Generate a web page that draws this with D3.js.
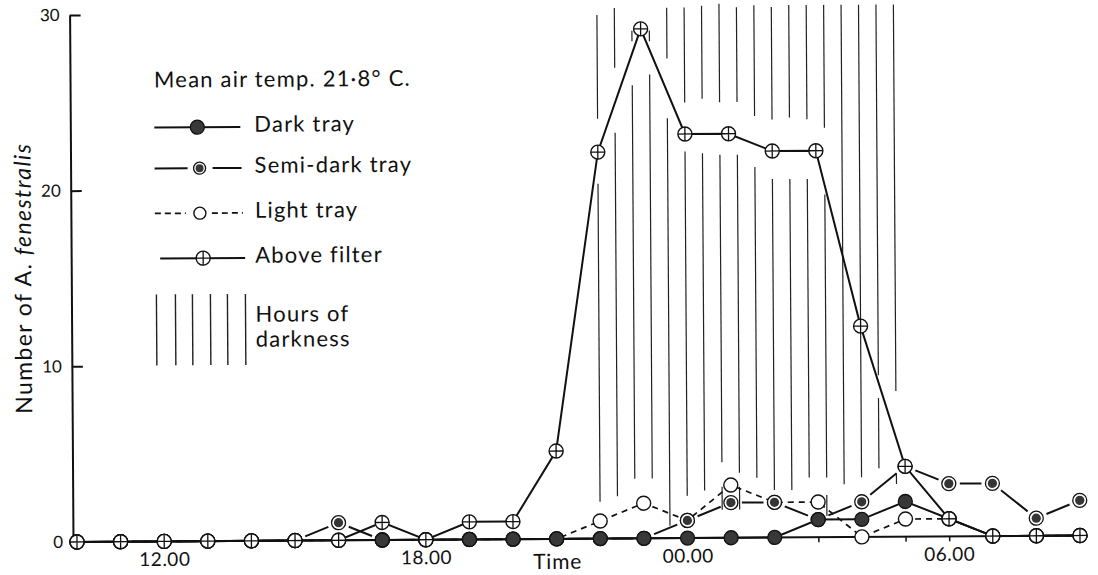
<!DOCTYPE html>
<html>
<head>
<meta charset="utf-8">
<script src="https://cdn.jsdelivr.net/npm/d3@7"></script>
<style>
  body { margin: 0; background: #fff; }
  svg { display: block; }
  text { font-family: Lato, "Open Sans", sans-serif; fill: #111; }
</style>
</head>
<body>
<svg id="chart" width="1098" height="575"></svg>
<script>
// Hourly catches; hours counted from midnight of the first day (24 = 00.00 next day)
const hours        = [10,11,12,13,14,15,16,17,18,19,20,21,22,23,24,25,26,27,28,29,30,31,32,33];
const darkTray     = [0,0,0,0,0,0,0,0,0,0,0,0,0,0,0,0,0,1,1,2,1,0,0,0];
const semiDarkTray = [0,0,0,0,0,0,1,0,0,0,0,0,0,0,1,2,2,1,2,4,3,3,1,2];
const lightTray    = [0,0,0,0,0,0,0,0,0,0,0,0,1,2,1,3,2,2,0,1,1,0,0,0];
const aboveFilter  = [0,0,0,0,0,0,0,1,0,1,1,5,22,29,23,23,22,22,12,4,1,0,0,0];

const yTicks = [0, 10, 20, 30];
const labelHours = [12, 18, 24, 30];
const labelTexts = ["12.00", "18.00", "00.00", "06.00"];

// Hours of darkness (start, end) and the broken hatch strokes, in count units (top, bottom)
const darkness = [22.0, 28.8];
const darknessStrokes = [
  [[29.8,23.9],[20.2,2.1]],
  [[30.2,26.8],[23.1,2.4]],
  [[28.9,28.3],[25.8,3.4]],
  [[28.9,28.3],[26.4,3.4]],
  [[30.2,27.3],[23.9,0.7]],
  [[30.2,24.8],[22.0,2.4]],
  [[30.3,25.0],[21.9,2.7]],
  [[30.4,24.8],[21.8,4.3],[2.9,1.6]],
  [[30.2,24.8],[21.8,3.7],[2.9,1.6]],
  [[30.3,24.0],[21.1,3.4]],
  [[30.2,23.8],[20.4,2.7]],
  [[30.3,23.9],[20.4,2.7]],
  [[30.3,23.8],[20.4,3.4]],
  [[30.3,23.3],[19.5,3.4],[2.4,1.2]],
  [[30.3,3.0]],
  [[30.3,3.4]],
  [[30.3,9.2],[7.9,3.9]],
  [[30.3,8.3],[3.6,3.0]]
];

const INK = "#111";
const R = 7;

const svg = d3.select("#chart");
// whole figure sits very slightly rotated, as printed
const g = svg.append("g").attr("transform", "rotate(-0.37, 73, 542)");

const x = d3.scaleLinear().domain([10, 33]).range([77, 1080]);
const y = d3.scaleLinear().domain([0, 30]).range([542, 15]);
const axisX = 73;

// ---- darkness hatching
const hatch = g.append("g").attr("stroke", "#222").attr("stroke-width", 1.2);
darknessStrokes.forEach((segs, i) => {
  const h = darkness[0] + i * (darkness[1] - darkness[0]) / (darknessStrokes.length - 1);
  segs.forEach(([t, b]) => {
    hatch.append("line")
      .attr("x1", x(h)).attr("x2", x(h))
      .attr("y1", y(t)).attr("y2", y(b));
  });
});

// ---- axes
const yAxis = d3.axisLeft(y).tickValues(yTicks).tickSizeInner(-11).tickSizeOuter(0).tickPadding(10);
const ya = g.append("g").attr("transform", `translate(${axisX},0)`).call(yAxis);
ya.select(".domain").attr("stroke", INK).attr("stroke-width", 2);
ya.selectAll(".tick line").attr("stroke", INK).attr("stroke-width", 2);
ya.selectAll(".tick text").attr("font-size", 17).style("font-family", "Lato, sans-serif").attr("fill", INK);

const xAxis = d3.axisBottom(x).tickValues(hours).tickSize(5).tickPadding(6)
  .tickFormat(h => { const k = labelHours.indexOf(h); return k >= 0 ? labelTexts[k] : ""; });
const xa = g.append("g").attr("transform", `translate(0,${y(0)})`).call(xAxis);
xa.select(".domain").remove();
xa.selectAll(".tick line").attr("stroke", INK).attr("stroke-width", 1.5);
xa.selectAll(".tick text").attr("font-size", 19).attr("letter-spacing", 0.5)
  .style("font-family", "Lato, sans-serif").attr("fill", INK);
g.append("line").attr("x1", axisX).attr("x2", x(33) + 4).attr("y1", y(0)).attr("y2", y(0))
  .attr("stroke", INK).attr("stroke-width", 2);

g.append("text").attr("x", 533).attr("y", 572).attr("font-size", 21).attr("letter-spacing", 0.8).text("Time");

const yt = g.append("text").attr("transform", "translate(33,278) rotate(-90)")
  .attr("text-anchor", "middle").attr("font-size", 23).attr("letter-spacing", 1.4);
yt.append("tspan").text("Number of A. ");
yt.append("tspan").attr("font-style", "italic").text("fenestralis");

// ---- series lines
const pts = vals => hours.map((h, i) => [x(h), y(vals[i])]);
const line = d3.line();

g.append("path").attr("d", line(pts(lightTray))).attr("fill", "none")
  .attr("stroke", INK).attr("stroke-width", 1.7).attr("stroke-dasharray", "6,5");

// semi-dark: one dash per interval, broken clear of the markers
function trimmedSegments(p, gap) {
  const out = [];
  for (let i = 0; i < p.length - 1; i++) {
    const [x1, y1] = p[i], [x2, y2] = p[i + 1];
    const L = Math.hypot(x2 - x1, y2 - y1);
    if (L <= 2 * gap + 2) continue;
    const ux = (x2 - x1) / L, uy = (y2 - y1) / L;
    out.push([[x1 + ux * gap, y1 + uy * gap], [x2 - ux * gap, y2 - uy * gap]]);
  }
  return out;
}
g.append("g").selectAll("line").data(trimmedSegments(pts(semiDarkTray), 11)).join("line")
  .attr("x1", d => d[0][0]).attr("y1", d => d[0][1])
  .attr("x2", d => d[1][0]).attr("y2", d => d[1][1])
  .attr("stroke", INK).attr("stroke-width", 2);

g.append("path").attr("d", line(pts(darkTray))).attr("fill", "none")
  .attr("stroke", INK).attr("stroke-width", 2);
g.append("path").attr("d", line(pts(aboveFilter))).attr("fill", "none")
  .attr("stroke", INK).attr("stroke-width", 2);

// ---- markers
function lightMarker(sel, r) {
  sel.append("circle").attr("r", r).attr("fill", "#fff").attr("stroke", INK).attr("stroke-width", 1.4);
}
function semiMarker(sel, r) {
  sel.append("circle").attr("r", r).attr("fill", "#fff").attr("stroke", INK).attr("stroke-width", 1.3);
  sel.append("circle").attr("r", r * 0.66).attr("fill", "#353535");
}
function darkMarker(sel, r) {
  sel.append("circle").attr("r", r).attr("fill", "#383838").attr("stroke", INK).attr("stroke-width", 1.3);
}
function crossMarker(sel, r) {
  sel.append("circle").attr("r", r).attr("fill", "#fff").attr("stroke", INK).attr("stroke-width", 1.4);
  sel.append("path").attr("d", `M${-r},0H${r}M0,${-r}V${r}`).attr("stroke", INK).attr("stroke-width", 1.3);
}

function drawMarkers(vals, fn) {
  g.append("g").selectAll("g").data(hours.map((h, i) => [h, vals[i]])).join("g")
    .attr("transform", d => `translate(${x(d[0])},${y(d[1])})`)
    .each(function () { fn(d3.select(this), R); });
}
drawMarkers(lightTray, lightMarker);
drawMarkers(semiDarkTray, semiMarker);
drawMarkers(darkTray, darkMarker);
drawMarkers(aboveFilter, crossMarker);

// ---- legend
const lg = g.append("g").attr("letter-spacing", 1.2);
lg.append("text").attr("x", 157).attr("y", 88).attr("font-size", 22).text("Mean air temp. 21\u00b78\u00b0 C.");

const rows = [
  { y: 128, label: "Dark tray", draw: darkMarker, mx: 200, r: 7 },
  { y: 169, label: "Semi-dark tray", draw: semiMarker, mx: 202, r: 6 },
  { y: 214, label: "Light tray", draw: lightMarker, mx: 202, r: 6 },
  { y: 259, label: "Above filter", draw: crossMarker, mx: 205, r: 7 }
];
// sample strokes
lg.append("line").attr("x1", 157).attr("x2", 243).attr("y1", 128).attr("y2", 128).attr("stroke", INK).attr("stroke-width", 2);
lg.append("line").attr("x1", 157).attr("x2", 190).attr("y1", 169).attr("y2", 169).attr("stroke", INK).attr("stroke-width", 2);
lg.append("line").attr("x1", 215).attr("x2", 244).attr("y1", 169).attr("y2", 169).attr("stroke", INK).attr("stroke-width", 2);
lg.append("line").attr("x1", 157).attr("x2", 188).attr("y1", 214).attr("y2", 214).attr("stroke", INK).attr("stroke-width", 1.7).attr("stroke-dasharray", "6,4");
lg.append("line").attr("x1", 214).attr("x2", 245).attr("y1", 214).attr("y2", 214).attr("stroke", INK).attr("stroke-width", 1.7).attr("stroke-dasharray", "6,4");
lg.append("line").attr("x1", 162).attr("x2", 247).attr("y1", 259).attr("y2", 259).attr("stroke", INK).attr("stroke-width", 2);
rows.forEach(r => {
  r.draw(lg.append("g").attr("transform", `translate(${r.mx},${r.y})`), r.r);
  lg.append("text").attr("x", 257).attr("y", r.y + 5).attr("font-size", 22).text(r.label);
});
[158, 177, 194, 212, 229, 247].forEach(hx => {
  lg.append("line").attr("x1", hx).attr("x2", hx).attr("y1", 295).attr("y2", 366)
    .attr("stroke", "#222").attr("stroke-width", 1.4);
});
lg.append("text").attr("x", 257).attr("y", 323).attr("font-size", 22).text("Hours of");
lg.append("text").attr("x", 257).attr("y", 348).attr("font-size", 22).text("darkness");
</script>
</body>
</html>
